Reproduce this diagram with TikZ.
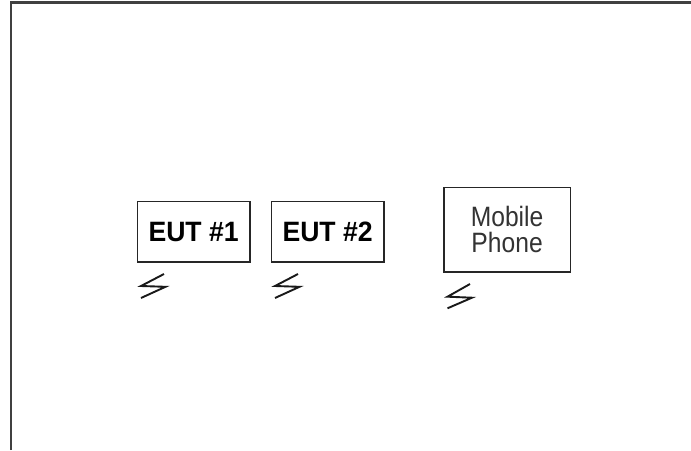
\documentclass[tikz,border=0pt]{standalone}
\usepackage{graphicx}
\usepackage{fontspec}
\setmainfont{Liberation Sans}
\newcommand{\narrowtxt}[2]{\scalebox{#1}[1]{#2}}
\tikzset{
  framebox/.style={draw=black!85,line width=1.7pt,anchor=north west,inner sep=0pt,align=center},
  eutbox/.style={framebox,minimum width=112.5pt,minimum height=60.5pt,font=\fontsize{28}{28}\selectfont\bfseries},
  phonebox/.style={framebox,minimum width=126.5pt,minimum height=84.5pt,font=\fontsize{28}{26}\selectfont,text=black!80},
  bolt/.style={draw=black!90,line width=1.9pt,line join=miter},
  outline/.style={draw=black!75,line width=2.2pt}
}
\begin{document}
\begin{tikzpicture}[x=1pt,y=-1pt]
\useasboundingbox (0,0) rectangle (691,450);
\fill[white] (0,0) rectangle (691,450);
\draw[outline] (10.7,450) -- (10.7,2.5) -- (691,2.5);
\node[eutbox] (eutA) at (136.5,200.7) {\narrowtxt{0.95}{EUT \#1}};
\node[eutbox] (eutB) at (270.5,200.7) {\narrowtxt{0.95}{EUT \#2}};
\node[phonebox] (phone) at (443,186.7) {\narrowtxt{0.88}{Mobile}\\\narrowtxt{0.88}{Phone}};
\draw[bolt] (164,274) -- (141,286) -- (165.5,286.8) -- (141,298);
\draw[bolt] (298,274) -- (275,286) -- (299.5,286.8) -- (275,298);
\draw[bolt] (470,284) -- (447.5,296.7) -- (472,297.7) -- (447.5,308.3);
\end{tikzpicture}
\end{document}
